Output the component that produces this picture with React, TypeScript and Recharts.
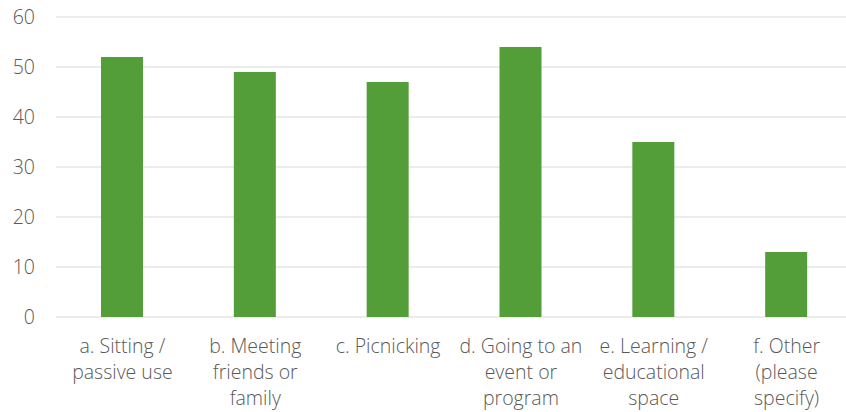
import { Bar, BarChart, CartesianGrid, XAxis, YAxis } from "recharts";

const categories = [
  "a. Sitting /\npassive use",
  "b. Meeting\nfriends or\nfamily",
  "c. Picnicking",
  "d. Going to an\nevent or\nprogram",
  "e. Learning /\neducational\nspace",
  "f. Other\n(please\nspecify)",
];
const counts = [52, 49, 47, 54, 35, 13];
const yTicks = [0, 10, 20, 30, 40, 50, 60];

const data = categories.map((name, i) => ({ name, value: counts[i] }));

const textColor = "#595959";
const font = "'Open Sans', 'Segoe UI', sans-serif";

function WrappedTick(props: any) {
  const { x, y, payload } = props;
  const lines = String(payload.value).split("\n");
  return (
    <text x={x} y={y} textAnchor="middle" fill={textColor} fontSize={19.5} fontFamily={font} fontWeight={300}>
      {lines.map((line, i) => (
        <tspan key={i} x={x} dy={i === 0 ? 34 : 26}>
          {line}
        </tspan>
      ))}
    </text>
  );
}

export default function App() {
  return (
    <div style={{ position: "absolute", left: 0, top: 0, width: 846, height: 412, overflow: "hidden", background: "#fff" }}>
      <BarChart width={853} height={412} data={data} margin={{ top: 17, right: 0, bottom: 0, left: 0 }}>
        <CartesianGrid vertical={false} stroke="#d9d9d9" strokeWidth={1} />
        <XAxis
          dataKey="name"
          interval={0}
          height={95}
          tickLine={false}
          axisLine={false}
          tickSize={0}
          tick={<WrappedTick />}
        />
        <YAxis
          width={56}
          domain={[0, 60]}
          ticks={yTicks}
          tickLine={false}
          axisLine={false}
          tickSize={0}
          tickMargin={21}
          tick={{ fill: textColor, fontSize: 19.5, fontFamily: font, fontWeight: 300 }}
        />
        <Bar dataKey="value" fill="#549e39" barSize={42} isAnimationActive={false} />
      </BarChart>
    </div>
  );
}
